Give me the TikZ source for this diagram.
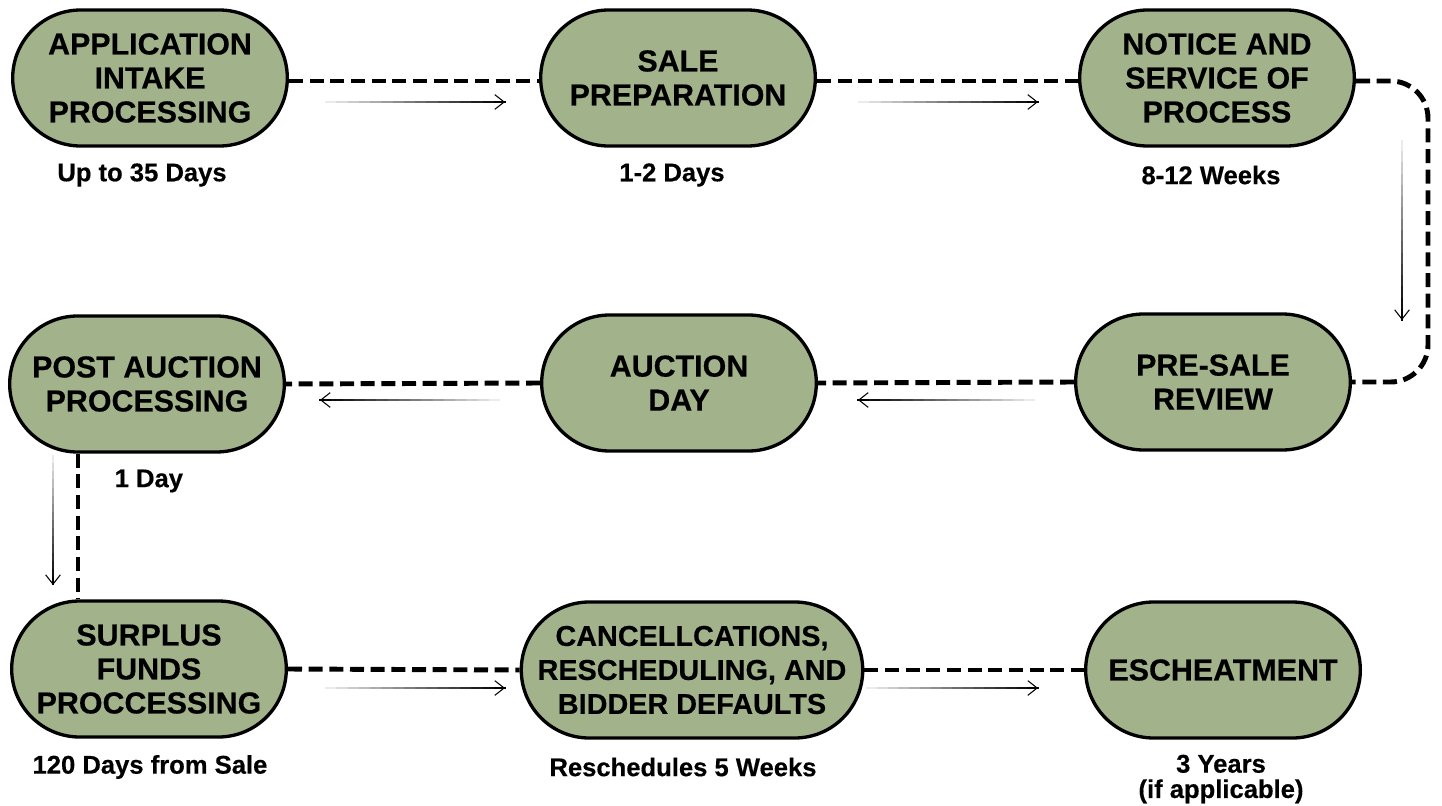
\documentclass[tikz,border=0pt]{standalone}
\usepackage{fontspec}
\setmainfont{Liberation Sans}[BoldFeatures={FakeBold=0.4}]
\usetikzlibrary{shapes.misc,arrows.meta,calc}
\definecolor{sage}{RGB}{162,178,139}
\begin{document}
\begin{tikzpicture}[x=0.75pt,y=-0.75pt,
  stage/.style={rounded rectangle, draw=black, line width=2.5pt, fill=sage,
    minimum width=210pt, minimum height=102pt, align=center,
    font=\bfseries\fontsize{22.8}{25.5}\selectfont, inner sep=2pt},
  dur/.style={font=\bfseries\fontsize{19.2}{19}\selectfont, align=center},
  flow/.style={line width=3.7pt, dash pattern=on 10.5pt off 5pt},
  hint/.style={line width=0.8pt, -{Straight Barb[length=7pt,width=11pt]}},
  hintseg/.style={line width=0.8pt}
]
\useasboundingbox (0,0) rectangle (1442,806);

% stages
\node[stage] (n1) at (150,78) {APPLICATION\\INTAKE\\PROCESSING};
\node[stage] (n2) at (678,78) {SALE\\PREPARATION};
\node[stage] (n3) at (1217,78) {NOTICE AND\\SERVICE OF\\PROCESS};
\node[stage] (n4) at (1213,382) {PRE-SALE\\REVIEW};
\node[stage] (n5) at (679,383) {AUCTION\\DAY};
\node[stage] (n6) at (147,384) {POST AUCTION\\PROCESSING};
\node[stage] (n7) at (149,669) {SURPLUS\\FUNDS\\PROCCESSING};
\node[stage, minimum width=255pt, inner xsep=0pt,
  font=\bfseries\fontsize{21.6}{25.5}\selectfont] (n8) at (692,670)
  {CANCELLCATIONS,\\RESCHEDULING, AND\\BIDDER DEFAULTS};
\node[stage] (n9) at (1223,670) {ESCHEATMENT};

% durations
\node[dur] (d1) at (142,175) {Up to 35 Days};
\node[dur] (d2) at (672,175) {1-2 Days};
\node[dur] (d3) at (1211,175) {8-12 Weeks};
\node[dur, anchor=west] (d6) at (110,481) {1 Day};
\node[dur] (d7) at (150,767) {120 Days from Sale};
\node[dur] (d8) at (683,767) {Reschedules 5 Weeks};
\node[dur] (d9) at (1221,779) {3 Years\\(if applicable)};

% dashed flow
\coordinate (rx) at (1428,0);
\coordinate (vx) at (78,0);
\coordinate (r1) at (0,81);
\draw[flow] (n1.east |- r1) -- (n2.west |- r1);
\draw[flow] (n2.east |- r1) -- (n3.west |- r1);
\draw[flow, rounded corners=28pt] (n3.east |- r1) -- (rx |- r1) -- (n4.east -| rx) -- (n4.east);
\draw[flow] (n4.west) -- (n5.east);
\draw[flow] (n5.west) -- (n6.east);
\draw[flow] (n6.south -| vx) -- (n7.north -| vx);
\draw[flow] (n7.east) -- (n8.west);
\draw[flow] (n8.east) -- (n9.west);

% thin direction hints (fading from light to dark)
\coordinate (a1s) at (325,102); \coordinate (a1e) at (505,102);
\coordinate (a2s) at (858,102); \coordinate (a2e) at (1038,102);
\coordinate (a3s) at (1402,140); \coordinate (a3e) at (1402,320);
\coordinate (a4s) at (1035,400); \coordinate (a4e) at (858,400);
\coordinate (a5s) at (500,400); \coordinate (a5e) at (320,400);
\coordinate (a6s) at (53,455); \coordinate (a6e) at (53,585);
\coordinate (a7s) at (325,688); \coordinate (a7e) at (505,688);
\coordinate (a8s) at (866,688); \coordinate (a8e) at (1038,688);
\foreach \s/\e in {a1s/a1e,a2s/a2e,a3s/a3e,a4s/a4e,a5s/a5e,a6s/a6e,a7s/a7e,a8s/a8e}{
  \foreach \i in {0,...,15}{
    \pgfmathsetmacro\c{8+92*\i/15}
    \pgfmathsetmacro\fa{\i/16}
    \pgfmathsetmacro\fb{(\i+1.05)/16}
    \draw[hintseg, draw=black!\c] ($(\s)!\fa!(\e)$) -- ($(\s)!\fb!(\e)$);
  }
  \draw[hint] ($(\s)!0.95!(\e)$) -- (\e);
}
\end{tikzpicture}
\end{document}
